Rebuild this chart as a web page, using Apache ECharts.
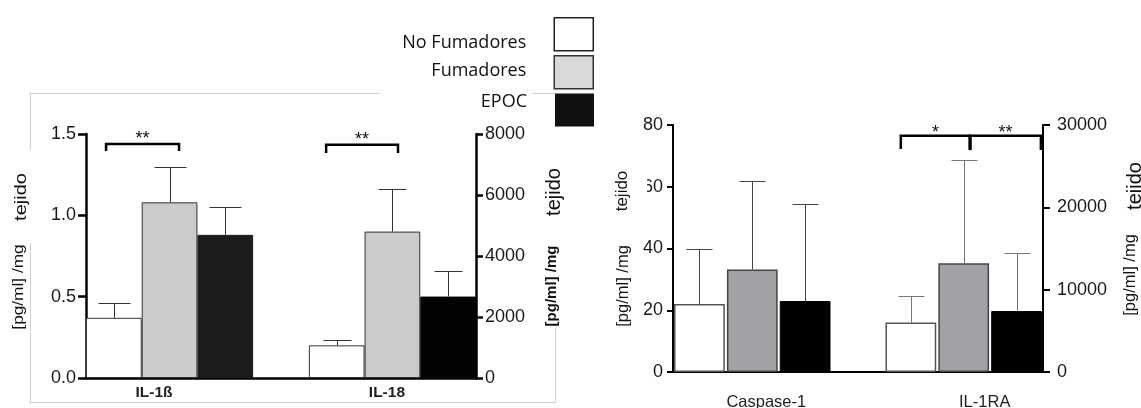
<!DOCTYPE html>
<html><head><meta charset="utf-8">
<script src="https://cdn.jsdelivr.net/npm/echarts@6/dist/echarts.min.js"></script>
<style>html,body{margin:0;padding:0;background:#fff}#c{width:1141px;height:408px}</style>
</head><body><div id="c"></div>
<script>
// ---------- data ----------
const groups = ['No Fumadores', 'Fumadores', 'EPOC'];
const leftCategories = ['IL-1ß', 'IL-18'];
const rightCategories = ['Caspase-1', 'IL-1RA'];
const il1bMean = [0.37, 1.08, 0.88];
const il1bErr = [0.09, 0.22, 0.17];
const il18Mean = [1070, 4800, 2670];
const il18Err = [170, 1400, 830];
const casp1Mean = [22, 33.2, 23];
const casp1Err = [18, 28.8, 31.3];
const il1raMean = [6000, 13200, 7400];
const il1raErr = [3200, 12500, 7100];
const leftTicksL = [0, 0.5, 1.0, 1.5];
const leftTicksR = [0, 2000, 4000, 6000, 8000];
const rightTicksL = [0, 20, 40, 60, 80];
const rightTicksR = [0, 10000, 20000, 30000];
const sigLeft = ['**', '**'];
const sigRight = ['*', '**'];
const yName = ['[pg/ml] /mg', 'tejido'];

// ---------- helpers ----------
const FONT = 'Liberation Sans, Arial, sans-serif';
function slotNames(cats) {
  const a = [];
  cats.forEach((c, ci) => { groups.forEach(g => a.push(c + ' - ' + g)); if (ci === 0) a.push('gap'); });
  return a;
}
function slotData(catIdx, gi, v) {
  const d = new Array(7).fill('-');
  d[catIdx * 4 + gi] = v;
  return d;
}
function axisRange(ticks) {
  return { min: ticks[0], max: ticks[ticks.length - 1], interval: ticks[1] - ticks[0] };
}
function barSeries(xi, yi, catIdx, means, styles, width) {
  return groups.map((g, gi) => ({
    type: 'bar', name: g, xAxisIndex: xi, yAxisIndex: yi,
    data: slotData(catIdx, gi, means[gi]),
    barWidth: width, barGap: '-100%',
    itemStyle: styles[gi]
  }));
}
function errSeries(xi, yi, catIdx, means, errs, color, capW) {
  return {
    type: 'custom', xAxisIndex: xi, yAxisIndex: yi, z: 3,
    data: means.map((m, gi) => [catIdx * 4 + gi, m, m + errs[gi]]),
    renderItem: (params, api) => {
      const x = api.value(0);
      const top = api.coord([x, api.value(2)]);
      const base = api.coord([x, api.value(1)]);
      const cx = Math.round(top[0]) + 0.5;
      const ty = Math.round(top[1]) + 0.5;
      return { type: 'group', children: [
        { type: 'line', shape: { x1: cx, y1: ty, x2: cx, y2: base[1] }, style: { stroke: color, lineWidth: 1 } },
        { type: 'line', shape: { x1: cx - capW / 2, y1: ty, x2: cx + capW / 2, y2: ty }, style: { stroke: color, lineWidth: 1 } }
      ]};
    }
  };
}
// brackets: x positions in slot units (0 = first slot centre)
function bracketSeries(xi, yi, defs, textLift) {
  return {
    type: 'custom', xAxisIndex: xi, yAxisIndex: yi, z: 4,
    data: defs.map(d => [0, d.top]),
    renderItem: (params, api) => {
      const d = defs[params.dataIndex];
      const o = api.coord([0, d.top]);
      const bw = api.size([1, 0])[0];
      const px = s => o[0] + s * bw;
      const yt = o[1];
      const yb = api.coord([0, d.bottom])[1];
      const ch = [
        { type: 'polyline', shape: { points: [[px(d.x1), yb], [px(d.x1), yt], [px(d.x2), yt], [px(d.x2), yb]] },
          style: { stroke: '#000', lineWidth: 2.5, fill: null } }
      ];
      if (d.mid != null) ch.push({ type: 'line', shape: { x1: px(d.mid), y1: yt, x2: px(d.mid), y2: yb }, style: { stroke: '#000', lineWidth: 3 } });
      ch.push({ type: 'text', style: { text: d.text, x: px((d.x1 + d.x2) / 2), y: yt - textLift,
        align: 'center', verticalAlign: 'middle', font: 'normal 18px ' + FONT, fill: '#111' } });
      return { type: 'group', children: ch };
    }
  };
}
function yAxisCfg(grid, pos, ticks, fmt, lw, tickLen, margin) {
  return Object.assign({
    type: 'value', gridIndex: grid, position: pos,
    axisLine: { show: true, lineStyle: { color: '#000', width: lw } },
    axisTick: { show: true, inside: false, length: tickLen, lineStyle: { color: '#000', width: lw } },
    axisLabel: { margin: margin, fontSize: 18, fontFamily: FONT, color: '#1a1a1a', formatter: fmt },
    splitLine: { show: false }
  }, axisRange(ticks));
}
function vtext(text, x, y, size, weight, stretch) {
  return { type: 'text', x: x, y: y, rotation: Math.PI / 2, scaleX: stretch || 1, z: 50,
    style: { text: text, x: 0, y: 0, align: 'center', verticalAlign: 'middle',
      font: (weight || 'normal') + ' ' + size + 'px ' + FONT, fill: '#111' } };
}
function fline(x1, y1, x2, y2) {
  return { type: 'line', z: -5, shape: { x1: x1, y1: y1, x2: x2, y2: y2 }, style: { stroke: '#cfcfcf', lineWidth: 1 } };
}

// ---------- styles ----------
const leftStyles1b = [
  { color: '#ffffff', borderColor: '#333', borderWidth: 1 },
  { color: '#cbcbcb', borderColor: '#333', borderWidth: 1 },
  { color: '#1c1c1c', borderColor: '#1c1c1c', borderWidth: 1 }
];
const leftStyles18 = [
  { color: '#ffffff', borderColor: '#333', borderWidth: 1 },
  { color: '#cbcbcb', borderColor: '#333', borderWidth: 1 },
  { color: '#030303', borderColor: '#030303', borderWidth: 1 }
];
const rightStyles = [
  { color: '#ffffff', borderColor: '#555', borderWidth: 1.5 },
  { color: '#a2a2a6', borderColor: '#444', borderWidth: 1.5 },
  { color: '#000000', borderColor: '#000', borderWidth: 1 }
];
const legendStyles = [
  { color: '#ffffff', borderColor: '#222', borderWidth: 1.5 },
  { color: '#d9d9d9', borderColor: '#333', borderWidth: 1.5 },
  { color: '#111111', borderColor: '#111', borderWidth: 0 }
];

const series = [].concat(
  barSeries(0, 0, 0, il1bMean, leftStyles1b, '100%'),
  barSeries(0, 1, 1, il18Mean, leftStyles18, '100%'),
  barSeries(1, 2, 0, casp1Mean, rightStyles, '96%'),
  barSeries(1, 3, 1, il1raMean, rightStyles, '96%'),
  [
    errSeries(0, 0, 0, il1bMean, il1bErr, '#333', 32),
    errSeries(0, 1, 1, il18Mean, il18Err, '#333', 28),
    errSeries(1, 2, 0, casp1Mean, casp1Err, '#444', 26),
    errSeries(1, 3, 1, il1raMean, il1raErr, '#777', 26),
    bracketSeries(0, 0, [{ x1: -0.14, x2: 1.17, top: 1.438, bottom: 1.395, text: sigLeft[0] }], 5),
    bracketSeries(0, 1, [{ x1: 3.81, x2: 5.10, top: 7650, bottom: 7380, text: sigLeft[1] }], 5),
    bracketSeries(1, 3, [
      { x1: 3.81, x2: 5.12, top: 28700, bottom: 27080, text: sigRight[0] },
      { x1: 5.12, x2: 6.46, top: 28700, bottom: 26950, text: sigRight[1], mid: 5.12 }
    ], 3)
  ]
);

const legendRich = (pad) => ({ t: { fontFamily: 'Open Sans, sans-serif', fontSize: 18, color: '#111', padding: pad } });
const legendTops = [17, 55, 93];
const legendPads = [[18, 23, 0, 0], [0, 23, 3, 0], [0, 23, 16, 0]];
const legends = groups.map((g, gi) => ({
  data: [{ name: g, itemStyle: legendStyles[gi] }],
  orient: 'vertical', align: 'right', right: 547, top: legendTops[gi],
  icon: 'rect', itemWidth: 39, itemHeight: 33, padding: 0, selectedMode: false,
  formatter: n => '{t|' + n + '}',
  textStyle: { rich: legendRich(legendPads[gi]) }
}));

const option = {
  animation: false,
  backgroundColor: '#fff',
  legend: legends,
  grid: [
    { left: 86, top: 134, width: 390, height: 244, outerBoundsMode: 'none', containLabel: false },
    { left: 673, top: 125, width: 370, height: 247, outerBoundsMode: 'none', containLabel: false }
  ],
  xAxis: [
    { type: 'category', gridIndex: 0, data: slotNames(leftCategories),
      axisLine: { lineStyle: { color: '#000', width: 2.5 } }, axisTick: { show: false },
      axisLabel: { interval: 0, margin: 7,
        formatter: (v, i) => i === 1 ? '{a|' + leftCategories[0] + '}' : i === 5 ? '{b|' + leftCategories[1] + '}' : '',
        rich: {
          a: { fontSize: 15.5, fontWeight: 'bold', fontFamily: FONT, color: '#222', padding: [0, 31, 0, 0] },
          b: { fontSize: 15.5, fontWeight: 'bold', fontFamily: FONT, color: '#222', padding: [0, 11, 0, 0] }
        } } },
    { type: 'category', gridIndex: 1, data: slotNames(rightCategories),
      axisLine: { lineStyle: { color: '#000', width: 2 } }, axisTick: { show: false },
      axisLabel: { interval: 0, margin: 22,
        formatter: (v, i) => i === 1 ? '{a|' + rightCategories[0] + '}' : i === 5 ? '{b|' + rightCategories[1] + '}' : '',
        rich: {
          a: { fontSize: 16.5, fontFamily: FONT, color: '#222', padding: [0, 0, 0, 28] },
          b: { fontSize: 16.5, fontFamily: FONT, color: '#222', padding: [0, 0, 0, 42] }
        } } }
  ],
  yAxis: [
    yAxisCfg(0, 'left', leftTicksL, v => v.toFixed(1), 2.5, 8, 10),
    yAxisCfg(0, 'right', leftTicksR, v => String(v), 2.5, 7, 9),
    yAxisCfg(1, 'left', rightTicksL, v => String(v), 2, 6, 10),
    yAxisCfg(1, 'right', rightTicksR, v => String(v), 2, 7, 14)
  ],
  graphic: [
    fline(30, 93.5, 380, 93.5), fline(532, 93.5, 555, 93.5),
    fline(30.5, 93, 30.5, 150), fline(30.5, 243, 30.5, 402),
    fline(30, 402.5, 555.5, 402.5), fline(555.5, 328, 555.5, 402.5),
    vtext(yName[1], 22, 197, 16, 'normal', 1.25), vtext(yName[0], 19, 287, 15, 'normal', 1.15),
    vtext(yName[1], 554, 192, 20), vtext(yName[0], 552, 286, 15, 'bold'),
    vtext(yName[1], 622, 191, 17), vtext(yName[0], 623, 286, 16.5),
    vtext(yName[1], 1135, 186, 20), vtext(yName[0], 1130, 275, 16.5),
    { type: 'rect', z: 100, shape: { x: 634, y: 176, width: 13, height: 22 }, style: { fill: '#fff' } }
  ],
  series: series
};
const chart = echarts.init(document.getElementById('c'), null, { renderer: 'canvas' });
chart.setOption(option);
</script>
</body></html>
